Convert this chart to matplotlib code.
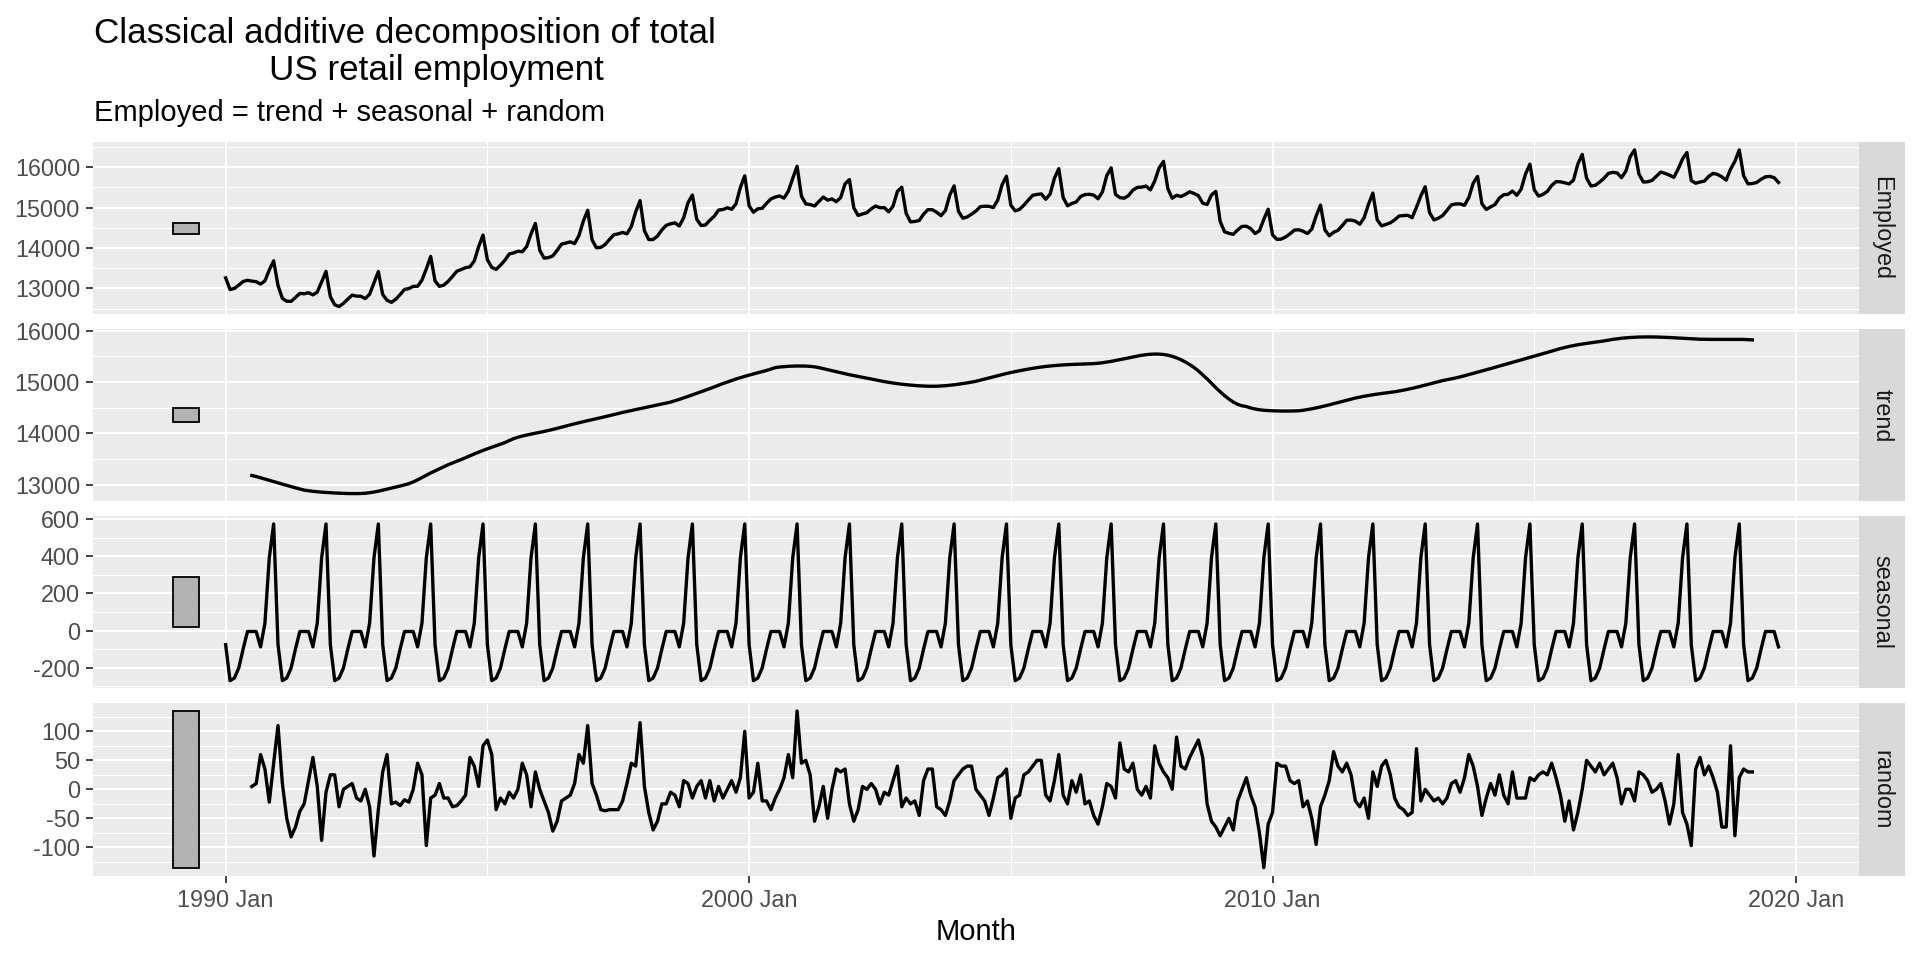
import numpy as np
import matplotlib.pyplot as plt
from matplotlib.patches import Rectangle
from matplotlib.ticker import FixedLocator

plt.rcParams["font.family"] = ["Liberation Sans", "DejaVu Sans"]

# ── Data: US retail employment (thousands), 1990 Jan - 2019 Sep ──────────────

# classical seasonal indices, Jan..Dec (same every year)
seasonal_idx = [-76, -270, -256, -202, -100, -5, -5, -5, -88, 40, 392, 575]

# trend (2x12 moving average), 1990 Jul - 2019 Mar
trend_rows = [
    [13180, 13160, 13135, 13110, 13085, 13062],                                        # 1990 Jul-Dec
    [13038, 13012, 12988, 12963, 12940, 12918, 12896, 12883, 12872, 12863, 12856, 12850],  # 1991
    [12845, 12840, 12836, 12832, 12829, 12828, 12828, 12830, 12835, 12845, 12858, 12875],  # 1992
    [12895, 12915, 12935, 12955, 12975, 12998, 13021, 13055, 13095, 13140, 13185, 13230],  # 1993
    [13270, 13310, 13350, 13390, 13425, 13458, 13491, 13528, 13565, 13600, 13635, 13668],  # 1994
    [13700, 13730, 13760, 13790, 13820, 13860, 13897, 13925, 13948, 13968, 13985, 14002],  # 1995
    [14020, 14038, 14057, 14077, 14098, 14120, 14143, 14165, 14187, 14208, 14228, 14247],  # 1996
    [14266, 14285, 14305, 14325, 14346, 14367, 14389, 14408, 14427, 14445, 14463, 14481],  # 1997
    [14499, 14517, 14535, 14553, 14571, 14590, 14609, 14635, 14662, 14690, 14720, 14750],  # 1998
    [14780, 14810, 14840, 14872, 14905, 14938, 14970, 15000, 15030, 15058, 15085, 15110],  # 1999
    [15135, 15158, 15180, 15202, 15225, 15252, 15280, 15292, 15300, 15306, 15310, 15312],  # 2000
    [15312, 15310, 15305, 15295, 15280, 15260, 15239, 15218, 15198, 15178, 15160, 15142],  # 2001
    [15125, 15108, 15092, 15075, 15058, 15042, 15025, 15008, 14993, 14980, 14968, 14958],  # 2002
    [14948, 14940, 14932, 14926, 14921, 14918, 14917, 14918, 14922, 14928, 14936, 14946],  # 2003
    [14958, 14970, 14983, 14998, 15014, 15036, 15058, 15080, 15102, 15124, 15146, 15166],  # 2004
    [15185, 15203, 15220, 15237, 15252, 15267, 15280, 15292, 15303, 15312, 15320, 15327],  # 2005
    [15333, 15338, 15342, 15345, 15348, 15350, 15353, 15358, 15365, 15375, 15388, 15402],  # 2006
    [15418, 15435, 15452, 15470, 15487, 15504, 15520, 15532, 15540, 15544, 15543, 15536],  # 2007
    [15522, 15500, 15470, 15435, 15390, 15340, 15283, 15215, 15140, 15060, 14975, 14890],  # 2008
    [14810, 14735, 14668, 14610, 14565, 14538, 14522, 14495, 14475, 14460, 14450, 14444],  # 2009
    [14440, 14437, 14435, 14434, 14435, 14437, 14440, 14450, 14463, 14478, 14496, 14515],  # 2010
    [14535, 14556, 14578, 14600, 14623, 14646, 14668, 14688, 14706, 14723, 14738, 14752],  # 2011
    [14765, 14777, 14788, 14799, 14810, 14825, 14841, 14858, 14877, 14897, 14918, 14940],  # 2012
    [14962, 14984, 15006, 15028, 15045, 15062, 15079, 15100, 15122, 15145, 15168, 15192],  # 2013
    [15215, 15238, 15262, 15286, 15310, 15333, 15357, 15382, 15406, 15430, 15454, 15478],  # 2014
    [15502, 15527, 15552, 15577, 15602, 15627, 15651, 15672, 15692, 15710, 15726, 15740],  # 2015
    [15752, 15764, 15776, 15788, 15800, 15815, 15830, 15842, 15852, 15860, 15867, 15872],  # 2016
    [15875, 15877, 15878, 15878, 15876, 15873, 15870, 15866, 15861, 15855, 15850, 15845],  # 2017
    [15840, 15836, 15833, 15831, 15830, 15830, 15830, 15831, 15832, 15832, 15832, 15831],  # 2018
    [15829, 15825, 15820],                                                             # 2019 Jan-Mar
]

# random (remainder), 1990 Jul - 2019 Mar
random_rows = [
    [5, 10, 60, 35, -22, 45],                                   # 1990 Jul-Dec
    [110, 10, -50, -82, -65, -38, -25, 15, 55, 5, -88, -5],     # 1991
    [25, 25, -30, 0, 5, 10, -15, -20, 0, -30, -115, -35],       # 1992
    [30, 60, -25, -22, -28, -18, -22, 0, 45, 25, -97, -15],     # 1993
    [-10, 10, -15, -15, -30, -28, -20, -10, 55, 40, 5, 75],     # 1994
    [85, 60, -35, -15, -25, -5, -15, 0, 45, 25, -30, 30],       # 1995
    [0, -20, -40, -72, -55, -20, -15, -10, 10, 60, 45, 110],    # 1996
    [10, -10, -35, -37, -35, -35, -35, -20, 10, 45, 40, 115],   # 1997
    [5, -40, -70, -55, -25, -25, -5, -10, -30, 15, 10, -15],    # 1998
    [5, 15, -15, 15, -20, 5, -15, 0, 15, -5, 20, 100],          # 1999
    [-15, -5, 45, -20, -20, -35, -15, 0, 20, 60, 20, 135],      # 2000
    [45, 50, 25, -55, -30, 5, -50, 0, 35, 30, 35, -25],         # 2001
    [-55, -35, 5, 0, 10, 0, -25, -5, -10, 15, 40, -30],         # 2002
    [-15, -25, -20, -45, 15, 35, 35, -30, -35, -45, -20, 15],   # 2003
    [25, 35, 40, 40, 0, -10, -20, -45, -15, 20, 25, 35],        # 2004
    [-50, -15, -10, 25, 30, 40, 50, 50, -10, -20, 15, 60],      # 2005
    [-10, -25, 15, -5, 25, -25, -20, -45, -60, -30, 10, 5],     # 2006
    [-15, 80, 35, 30, 45, 0, -10, 5, -15, 75, 45, 30],          # 2007
    [20, 0, 90, 40, 35, 55, 70, 85, 55, -25, -55, -65],         # 2008
    [-80, -65, -50, -70, -20, 0, 20, -10, -30, -75, -135, -60], # 2009
    [-40, 45, 40, 40, 15, 10, 15, -30, -20, -50, -95, -30],     # 2010
    [-10, 15, 65, 40, 30, 45, 25, -20, -30, -15, -50, 30],      # 2011
    [5, 40, 50, 25, -15, -30, -35, -45, -40, 70, -20, 0],       # 2012
    [-10, -20, -15, -25, -15, 10, 15, -5, 20, 60, 40, 5],       # 2013
    [-45, -15, 10, -10, 25, -10, -25, 30, -15, -15, -15, 20],   # 2014
    [15, 25, 30, 25, 45, 20, -10, -55, -20, -70, -40, 0],       # 2015
    [50, 40, 30, 45, 25, 35, 45, 20, -25, 0, 0, -20],           # 2016
    [30, 25, 15, -5, 0, 10, -20, -60, -25, 60, -40, -60],       # 2017
    [-97, 35, 55, 25, 40, 20, -5, -65, -65, 75, -80, 20],       # 2018
    [35, 30, 30],                                               # 2019 Jan-Mar
]

# Employed where the centred trend is undefined
employed_head = [13260, 12970, 13000, 13080, 13170, 13200]   # 1990 Jan-Jun
employed_tail = [15620, 15700, 15760, 15770, 15740, 15620]   # 2019 Apr-Sep

panel_names = ["Employed", "trend", "seasonal", "random"]
x_tick_vals = [1990, 2000, 2010, 2020]
x_tick_labels = ["1990 Jan", "2000 Jan", "2010 Jan", "2020 Jan"]
x_minor_vals = [1995, 2005, 2015]
y_major = [[13000, 14000, 15000, 16000],
           [13000, 14000, 15000, 16000],
           [-200, 0, 200, 400, 600],
           [-100, -50, 0, 50, 100]]
y_minor = [[12500, 13500, 14500, 15500, 16500],
           [12500, 13500, 14500, 15500, 16500],
           [-300, -100, 100, 300, 500],
           [-125, -75, -25, 25, 75, 125]]

# ── Assemble components ──────────────────────────────────────────────────────

n_months = 357
x_all = 1990 + np.arange(n_months) / 12
x_mid = x_all[6:n_months - 6]

trend = np.concatenate([np.array(r, float) for r in trend_rows])
random = np.concatenate([np.array(r, float) for r in random_rows])
seasonal = np.tile(np.array(seasonal_idx, float), n_months // 12 + 1)[:n_months]
employed = np.concatenate([employed_head,
                           trend + seasonal[6:n_months - 6] + random,
                           employed_tail])

series = [(x_all, employed), (x_mid, trend), (x_all, seasonal), (x_mid, random)]

# scale bars: same data height in every panel (smallest component range)
bar_w = round((n_months - 1) / 64) / 12
bar_x0 = 1990 - 2 * bar_w
bar_x1 = 1990 - bar_w
bar_h = min(v.max() - v.min() for _, v in series)

x_lo, x_hi = bar_x0, x_all[-1]
x_pad = 0.05 * (x_hi - x_lo)

# ── Layout (in reference pixel units) ─────────────────────────────────────────

W, H = 1568, 784
def fx(x):
    return x / W
def fy(y):
    return 1 - y / H

P_LEFT, P_RIGHT = 76, 1518
P_TOP, P_BOT, GAP = 116, 715, 12
P_H = (P_BOT - P_TOP - 3 * GAP) / 4
STRIP_W = 38

PANEL_BG = "#EBEBEB"
STRIP_BG = "#D9D9D9"
TICK_TXT = "#4D4D4D"
TICK_CLR = "#333333"

fig = plt.figure(figsize=(19.2, 9.6), dpi=100)

for i, (name, (xv, yv)) in enumerate(zip(panel_names, series)):
    top = P_TOP + i * (P_H + GAP)
    ax = fig.add_axes([fx(P_LEFT), fy(top + P_H), fx(P_RIGHT - P_LEFT), P_H / H])
    ax.set_facecolor(PANEL_BG)
    for s in ax.spines.values():
        s.set_visible(False)

    ax.plot(xv, yv, color="black", linewidth=2.4, solid_joinstyle="round", zorder=3)

    centre = (yv.max() + yv.min()) / 2
    ax.add_patch(Rectangle((bar_x0, centre - bar_h / 2), bar_x1 - bar_x0, bar_h,
                           facecolor="#B3B3B3", edgecolor="black", linewidth=1.3, zorder=3))

    y_pad = 0.05 * (yv.max() - yv.min())
    ax.set_ylim(yv.min() - y_pad, yv.max() + y_pad)
    ax.set_xlim(x_lo - x_pad, x_hi + x_pad)

    ax.yaxis.set_major_locator(FixedLocator(y_major[i]))
    ax.yaxis.set_minor_locator(FixedLocator(y_minor[i]))
    ax.xaxis.set_major_locator(FixedLocator(x_tick_vals))
    ax.xaxis.set_minor_locator(FixedLocator(x_minor_vals))
    ax.set_yticklabels([str(v) for v in y_major[i]])
    ax.grid(which="major", color="white", linewidth=1.5, zorder=0)
    ax.grid(which="minor", color="white", linewidth=0.75, zorder=0)
    ax.set_axisbelow(True)

    ax.tick_params(axis="y", which="major", length=5.2, width=1.3, color=TICK_CLR,
                   labelsize=16.8, labelcolor=TICK_TXT, pad=4.2)
    ax.tick_params(which="minor", length=0)
    if i == 3:
        ax.set_xticklabels(x_tick_labels)
        ax.tick_params(axis="x", which="major", length=5.2, width=1.3, color=TICK_CLR,
                       labelsize=16.8, labelcolor=TICK_TXT, pad=4.2)
    else:
        ax.tick_params(axis="x", which="major", length=0, labelbottom=False)

    # facet strip on the right
    sax = fig.add_axes([fx(P_RIGHT), fy(top + P_H), fx(STRIP_W), P_H / H])
    sax.set_facecolor(STRIP_BG)
    sax.set_xticks([])
    sax.set_yticks([])
    for s in sax.spines.values():
        s.set_visible(False)
    sax.text(0.5, 0.5, name, rotation=-90, ha="center", va="center",
             fontsize=16.8, color="#1A1A1A", transform=sax.transAxes)

# ── Titles ────────────────────────────────────────────────────────────────────

fig.text(fx(77), fy(35), "Classical additive decomposition of total",
         fontsize=25.2, ha="left", va="baseline")
fig.text(fx(220), fy(65), "US retail employment",
         fontsize=25.2, ha="left", va="baseline")
fig.text(fx(77), fy(99), "Employed = trend + seasonal + random",
         fontsize=21, ha="left", va="baseline")
fig.text(fx((P_LEFT + P_RIGHT) / 2), fy(761), "Month",
         fontsize=21, ha="center", va="center")

fig.savefig("out.png", dpi=100, facecolor="white")
